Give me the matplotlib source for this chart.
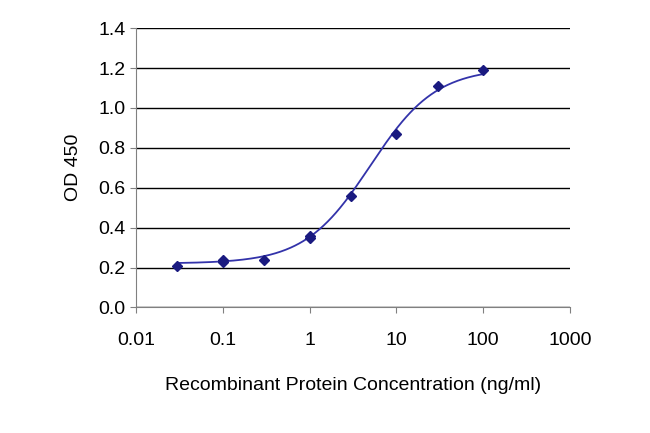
import numpy as np
import matplotlib
matplotlib.use("Agg")
import matplotlib.pyplot as plt

plt.rcParams['font.family'] = ['Liberation Sans', 'DejaVu Sans']

conc = [0.03, 0.1, 0.1, 0.3, 1, 1, 3, 10, 30, 100]
od = [0.21, 0.23, 0.24, 0.24, 0.36, 0.35, 0.56, 0.87, 1.11, 1.19]
# 4PL fit parameters (bottom, top, ec50, hill)
fit = dict(bottom=0.22, top=1.2, ec50=5.0, hill=1.15)

fig = plt.figure(figsize=(6.5, 4.33), dpi=100)
ax = fig.add_axes([0.209, 0.29, 0.668, 0.645])
ax.set_xscale('log')
ax.set_xlim(0.01, 1000)
ax.set_ylim(0, 1.4)
ax.set_yticks(np.arange(0, 1.41, 0.2))
ax.set_yticklabels([f"{v:.1f}" for v in np.arange(0, 1.41, 0.2)])
ax.set_xticks([0.01, 0.1, 1, 10, 100, 1000])
ax.set_xticklabels(['0.01', '0.1', '1', '10', '100', '1000'])
ax.minorticks_off()
ax.grid(axis='y', color='black', lw=1)
ax.set_axisbelow(True)
for s in ['top', 'right']:
    ax.spines[s].set_visible(False)
ax.spines['left'].set_color('#808080')
ax.spines['bottom'].set_color('#808080')
ax.tick_params(axis='both', labelsize=14, color='#808080', length=4)
ax.tick_params(axis='x', pad=14)

xs = np.logspace(np.log10(0.03), np.log10(100), 300)
ys = fit['bottom'] + (fit['top'] - fit['bottom']) / (1 + (fit['ec50'] / xs) ** fit['hill'])
ax.plot(xs, ys, color='#3333aa', lw=1.3)
ax.plot(conc, od, linestyle='none', marker='D', ms=5, color='#1a1a80')

ax.set_ylabel('OD 450', fontsize=14, labelpad=12)
ax.set_xlabel('Recombinant Protein Concentration (ng/ml)', fontsize=14, labelpad=20)
fig.savefig('out.png', dpi=100)
